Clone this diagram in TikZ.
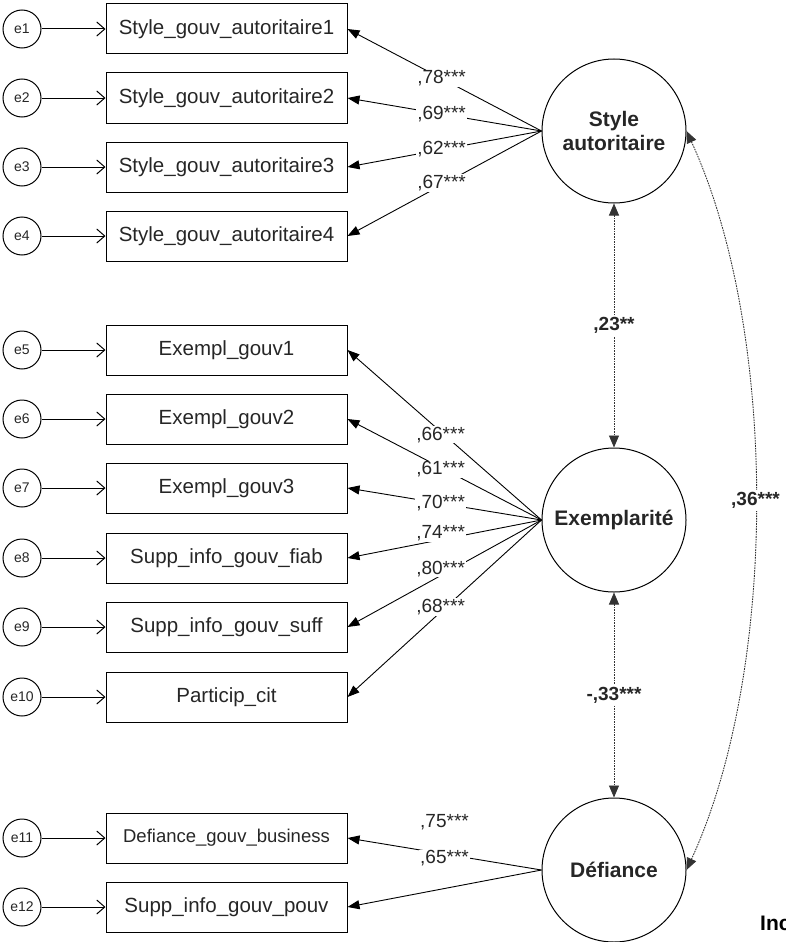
\documentclass[tikz,border=0pt]{standalone}
\usepackage{fontspec}
\setmainfont{Liberation Sans}
\usetikzlibrary{arrows.meta}
\begin{document}
\begin{tikzpicture}[x=1pt,y=-1pt,
  obs/.style={draw, line width=1pt, minimum width=241pt, minimum height=50pt, inner sep=0pt, font=\fontsize{20.5}{24}\selectfont, text=black!85},
  err/.style={draw, circle, line width=1pt, minimum size=38pt, inner sep=0pt, font=\fontsize{14}{16}\selectfont, text=black!85},
  lat/.style={draw, circle, line width=1pt, minimum size=144pt, inner sep=0pt, align=center, font=\fontsize{21}{24}\selectfont\bfseries, text=black!85},
  errarrow/.style={line width=1pt, -{Straight Barb[length=8pt,width=14pt]}},
  load/.style={line width=0.9pt, -{Triangle[length=12pt,width=9pt]}},
  lbl/.style={fill=white, inner sep=1pt, font=\fontsize{19}{22}\selectfont, text=black!85},
  cov/.style={line width=0.9pt, black!80, dash pattern=on 1.6pt off 1pt, {Triangle[length=12pt,width=10pt]}-{Triangle[length=12pt,width=10pt]}},
  covlbl/.style={fill=white, inner sep=2pt, font=\fontsize{19}{22}\selectfont\bfseries, text=black!85}
]
\useasboundingbox (0,0) rectangle (786,942);

% latent variables
\node[lat] (sa) at (614,131) {Style\\autoritaire};
\node[lat] (ex) at (614,520) {Exemplarité};
\node[lat] (df) at (614,870) {Défiance};

% observed variables and errors
\foreach \i/\y/\t in {1/29/Style\_gouv\_autoritaire1, 2/98/Style\_gouv\_autoritaire2, 3/167/Style\_gouv\_autoritaire3, 4/236/Style\_gouv\_autoritaire4, 5/350/Exempl\_gouv1, 6/419/Exempl\_gouv2, 7/488/Exempl\_gouv3, 8/558/Supp\_info\_gouv\_fiab, 9/627/Supp\_info\_gouv\_suff, 10/697/Particip\_cit, 12/907/Supp\_info\_gouv\_pouv}{
  \node[obs] (b\i) at (226.5,\y) {\t};
  \node[err] (e\i) at (22,\y) {e\i};
  \draw[errarrow] (e\i) -- (b\i);
}
\node[obs, font=\fontsize{18.5}{22}\selectfont] (b11) at (226.5,838) {Defiance\_gouv\_business};
\node[err] (e11) at (22,838) {e11};
\draw[errarrow] (e11) -- (b11);

% loadings: Style autoritaire
\draw[load] (sa.west) -- node[lbl, pos=0.515] (l1) {,78***} (b1.east);
\draw[load] (sa.west) -- node[lbl, pos=0.515] (l2) {,69***} (b2.east);
\draw[load] (sa.west) -- node[lbl, pos=0.515] (l3) {,62***} (b3.east);
\draw[load] (sa.west) -- node[lbl, pos=0.515, yshift=2pt] (l4) {,67***} (b4.east);

% loadings: Exemplarite
\draw[load] (ex.west) -- node[lbl, pos=0.52, yshift=-3pt] (l5) {,66***} (b5.east);
\draw[load] (ex.west) -- node[lbl, pos=0.52, yshift=-2pt] (l6) {,61***} (b6.east);
\draw[load] (ex.west) -- node[lbl, pos=0.52] (l7) {,70***} (b7.east);
\draw[load] (ex.west) -- node[lbl, pos=0.52, yshift=7pt] (l8) {,74***} (b8.east);
\draw[load] (ex.west) -- node[lbl, pos=0.52, yshift=7pt] (l9) {,80***} (b9.east);
\draw[load] (ex.west) -- node[lbl, pos=0.52, yshift=5pt] (l10) {,68***} (b10.east);

% loadings: Defiance
\draw[load] (df.west) -- node[lbl, pos=0.5, yshift=32pt] (l11) {,75***} (b11.east);
\draw[load] (df.west) -- node[lbl, pos=0.5, yshift=30pt] (l12) {,65***} (b12.east);

% covariances
\draw[cov] (sa.south) -- node[covlbl] (c1) {,23**} (ex.north);
\draw[cov] (ex.south) -- node[covlbl] (c2) {-,33***} (df.north);
\draw[cov] (sa.east) .. controls +(92,200) and +(92,-200) .. node[covlbl, pos=0.5] (c3) {,36***} (df.east);

% truncated text at the right edge (cut off in the reference too)
\node[anchor=west, inner sep=0pt, font=\fontsize{21}{24}\selectfont\bfseries] (inc) at (760,923) {Inc};
\end{tikzpicture}
\end{document}
